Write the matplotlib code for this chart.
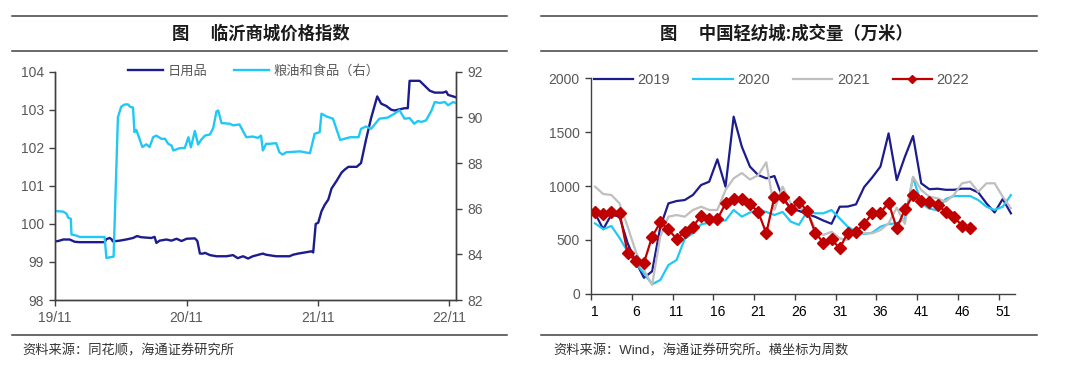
import pandas as pd
import matplotlib.pyplot as plt
from matplotlib.lines import Line2D

plt.rcParams['font.family'] = ['Liberation Sans', 'Noto Sans CJK SC']
plt.rcParams['axes.unicode_minus'] = False

# ---------- left chart: Linyi mall price index ----------
daily_dates = ['2019-11-01', '2019-11-10', '2019-11-24', '2019-12-12', '2019-12-26', '2020-01-09',
               '2020-03-18', '2020-03-23', '2020-04-01', '2020-04-06', '2020-04-10', '2020-04-29',
               '2020-05-17', '2020-06-05', '2020-06-16', '2020-06-28', '2020-07-12', '2020-07-26',
               '2020-08-04', '2020-08-09', '2020-08-18', '2020-09-06', '2020-09-20', '2020-10-04',
               '2020-10-18', '2020-11-01', '2020-11-24', '2020-12-01', '2020-12-08', '2020-12-17',
               '2020-12-22', '2021-01-05', '2021-01-23', '2021-02-20', '2021-03-10', '2021-03-23',
               '2021-04-07', '2021-04-21', '2021-05-04', '2021-06-01', '2021-06-10', '2021-07-08',
               '2021-08-14', '2021-08-24', '2021-09-07', '2021-09-26', '2021-10-14', '2021-10-19',
               '2021-10-26', '2021-11-02', '2021-11-11', '2021-11-20', '2021-11-30', '2021-12-09',
               '2021-12-23', '2022-01-06', '2022-01-15', '2022-01-25', '2022-02-17', '2022-03-01',
               '2022-03-15', '2022-03-29', '2022-04-15', '2022-04-26', '2022-05-10', '2022-05-24',
               '2022-06-02', '2022-06-30', '2022-07-09', '2022-07-14', '2022-08-11', '2022-08-25',
               '2022-09-08', '2022-09-22', '2022-10-15', '2022-10-24', '2022-10-29', '2022-11-12',
               '2022-11-19']
daily_vals = [99.54, 99.55, 99.59, 99.59, 99.53, 99.52,
              99.52, 99.60, 99.63, 99.60, 99.54, 99.56,
              99.59, 99.63, 99.68, 99.65, 99.64, 99.63,
              99.66, 99.50, 99.56, 99.59, 99.56, 99.61,
              99.55, 99.61, 99.62, 99.55, 99.22, 99.22,
              99.24, 99.18, 99.15, 99.15, 99.18, 99.10,
              99.15, 99.09, 99.15, 99.22, 99.19, 99.15,
              99.15, 99.19, 99.22, 99.25, 99.28, 99.25,
              100.00, 100.03, 100.33, 100.50, 100.64, 100.93,
              101.13, 101.35, 101.43, 101.50, 101.50, 101.60,
              102.22, 102.78, 103.35, 103.16, 103.10, 103.00,
              102.98, 103.04, 103.04, 103.76, 103.76, 103.63,
              103.50, 103.45, 103.45, 103.48, 103.39, 103.35,
              103.33]

food_dates = ['2019-11-01', '2019-11-24', '2019-12-03', '2019-12-08', '2019-12-15', '2019-12-17',
              '2019-12-31', '2020-01-09', '2020-03-18', '2020-03-23', '2020-04-01', '2020-04-12',
              '2020-04-24', '2020-05-03', '2020-05-12', '2020-05-22', '2020-05-28', '2020-06-05',
              '2020-06-09', '2020-06-14', '2020-06-18', '2020-07-01', '2020-07-12', '2020-07-21',
              '2020-07-31', '2020-08-09', '2020-08-23', '2020-09-02', '2020-09-11', '2020-09-20',
              '2020-09-25', '2020-10-13', '2020-10-27', '2020-11-06', '2020-11-13', '2020-11-24',
              '2020-12-03', '2020-12-12', '2020-12-22', '2021-01-05', '2021-01-14', '2021-01-23',
              '2021-01-28', '2021-02-06', '2021-03-01', '2021-03-10', '2021-03-28', '2021-04-16',
              '2021-05-04', '2021-05-18', '2021-05-27', '2021-06-01', '2021-06-10', '2021-06-19',
              '2021-07-08', '2021-07-17', '2021-07-26', '2021-08-05', '2021-09-12', '2021-10-10',
              '2021-10-23', '2021-11-06', '2021-11-11', '2021-11-25', '2021-12-13', '2022-01-02',
              '2022-01-30', '2022-02-22', '2022-03-01', '2022-03-15', '2022-03-29', '2022-04-21',
              '2022-05-14', '2022-06-02', '2022-06-16', '2022-06-30', '2022-07-14', '2022-07-27',
              '2022-08-06', '2022-08-16', '2022-08-29', '2022-09-13', '2022-09-22', '2022-10-06',
              '2022-10-20', '2022-10-29', '2022-11-12', '2022-11-19']
food_vals = [85.90, 85.87, 85.78, 85.60, 85.56, 84.87,
             84.82, 84.76, 84.76, 83.84, 83.87, 83.90,
             90.00, 90.46, 90.56, 90.57, 90.46, 90.43,
             89.35, 89.45, 89.28, 88.70, 88.82, 88.70,
             89.13, 89.20, 89.06, 89.06, 88.84, 88.77,
             88.55, 88.65, 88.66, 89.13, 88.69, 89.40,
             88.81, 89.03, 89.20, 89.25, 89.53, 90.26,
             90.30, 89.75, 89.72, 89.65, 89.69, 89.13,
             89.16, 89.10, 89.20, 88.55, 88.84, 88.84,
             88.87, 88.47, 88.37, 88.47, 88.51, 88.43,
             89.28, 89.35, 90.16, 90.04, 89.94, 89.01,
             89.13, 89.13, 89.50, 89.60, 89.50, 89.94,
             89.99, 90.16, 90.31, 89.94, 89.97, 89.72,
             89.84, 89.80, 89.87, 90.30, 90.67, 90.63,
             90.67, 90.53, 90.67, 90.63]

left_ticks = ['2019-11-01', '2020-11-01', '2021-11-01', '2022-11-01']
left_ticklabels = ['19/11', '20/11', '21/11', '22/11']

# ---------- right chart: China Textile City turnover (10k metres) ----------
weeks = list(range(1, 53))
vol_2019 = [747, 600, 735, 716, 469, 299, 150, 210, 620, 839, 861, 870, 917, 1009, 1040, 1247,
            994, 1642, 1364, 1179, 1102, 1071, 1092, 890, 793, 770, 740, 715, 680, 650, 808, 810,
            830, 990, 1080, 1180, 1487, 1055, 1271, 1463, 1025, 970, 975, 965, 965, 975, 975, 940,
            840, 755, 880, 747]
vol_2020 = [654, 600, 630, 520, 392, 284, 191, 90, 130, 268, 315, 510, 562, 645, 660, 685, 680,
            778, 716, 755, 778, 760, 731, 760, 670, 640, 762, 747, 747, 778, 700, 623, 577, 555,
            568, 623, 648, 654, 700, 1080, 840, 790, 775, 880, 907, 907, 907, 870, 808, 778, 808,
            916]
vol_2021 = [994, 926, 917, 839, 623, 392, 222, 85, 531, 716, 731, 716, 778, 808, 778, 778, 963,
            1071, 1120, 1060, 1100, 1220, 780, 994, 839, 793, 778, 600, 546, 577, 515, 500, 592,
            562, 562, 592, 654, 800, 650, 1086, 963, 901, 886, 855, 917, 1025, 1040, 947, 1025,
            1025, 901, 793]
vol_2022 = [756, 738, 762, 753, 376, 310, 290, 531, 663, 599, 509, 577, 623, 722, 691, 691, 839,
            876, 880, 830, 762, 562, 901, 901, 784, 855, 771, 568, 475, 506, 423, 568, 577, 648,
            747, 753, 845, 608, 784, 916, 861, 855, 824, 762, 716, 633, 608]
week_labels = [1, 6, 11, 16, 21, 26, 31, 36, 41, 46, 51]

navy = '#1c1c8c'
cyan = '#22c8f5'
grey = '#bfbfbf'
red = '#c00000'
txt = '#595959'
rule = '#404040'

fig = plt.figure(figsize=(10.8, 3.72), dpi=100)

# header / footer rules and texts
for x0, x1 in [(0.011, 0.469), (0.501, 0.960)]:
    for y in (0.957, 0.863, 0.0995):
        fig.add_artist(Line2D([x0, x1], [y, y], color=rule, lw=1.1, transform=fig.transFigure))

fig.text(0.2414, 0.909, '图\u3000 临沂商城价格指数', ha='center', va='center',
         fontsize=12.5, fontweight='bold', family=['Noto Sans CJK SC'], color='#1a1a1a')
fig.text(0.7284, 0.909, '图\u3000 中国轻纺城:成交量（万米）', ha='center', va='center',
         fontsize=12.5, fontweight='bold', family=['Noto Sans CJK SC'], color='#1a1a1a')
fig.text(0.021, 0.057, '资料来源：同花顺，海通证券研究所', ha='left', va='center',
         fontsize=9.5, color='#333333')
fig.text(0.512, 0.057, '资料来源：Wind，海通证券研究所。横坐标为周数', ha='left', va='center',
         fontsize=9.5, color='#333333')

# left chart
ax1 = fig.add_axes([0.0509, 0.1935, 0.3713, 0.6138])
ax2 = ax1.twinx()
l1, = ax1.plot(pd.to_datetime(daily_dates), daily_vals, color=navy, lw=1.7, label='日用品')
l2, = ax2.plot(pd.to_datetime(food_dates), food_vals, color=cyan, lw=1.7, label='粮油和食品（右）')
ax1.set_ylim(98, 104)
ax2.set_ylim(82, 92)
ax1.set_yticks(range(98, 105))
ax2.set_yticks(range(82, 93, 2))
ax1.set_xlim(pd.Timestamp('2019-11-01'), pd.Timestamp('2022-11-20'))
ax1.set_xticks(pd.to_datetime(left_ticks))
ax1.set_xticklabels(left_ticklabels)
for a in (ax1, ax2):
    a.spines['top'].set_visible(False)
    for s in ('left', 'right', 'bottom'):
        a.spines[s].set_color(rule)
        a.spines[s].set_linewidth(1.0)
    a.tick_params(direction='out', length=4, width=1, color=rule, labelsize=10,
                  labelcolor=txt, pad=4)
ax2.legend([l1, l2], ['日用品', '粮油和食品（右）'], loc='center', bbox_to_anchor=(0.495, 1.0),
           ncol=2, frameon=False, fontsize=9.5, handlelength=2.7, handletextpad=0.3,
           columnspacing=2.0, labelcolor=txt)

# right chart
ax3 = fig.add_axes([0.5472, 0.2097, 0.3926, 0.5806])
ax3.plot(weeks, vol_2019, color=navy, lw=1.6, label='2019')
ax3.plot(weeks, vol_2020, color=cyan, lw=1.6, label='2020')
ax3.plot(weeks, vol_2021, color=grey, lw=1.6, label='2021')
ax3.plot(weeks[:len(vol_2022)], vol_2022, color=red, lw=1.6, marker='D', markersize=6.5,
         label='2022')
ax3.set_xlim(0.5, 52.5)
ax3.set_ylim(0, 2000)
ax3.set_yticks(range(0, 2001, 500))
ax3.set_xticks([w - 0.5 for w in week_labels])
ax3.set_xticklabels([])
ax3.set_xticks(week_labels, minor=True)
ax3.set_xticklabels([str(w) for w in week_labels], minor=True)
ax3.spines['top'].set_visible(False)
ax3.spines['right'].set_visible(False)
for s in ('left', 'bottom'):
    ax3.spines[s].set_color(rule)
    ax3.spines[s].set_linewidth(1.0)
ax3.tick_params(direction='out', length=4, width=1, color=rule, labelsize=10,
                labelcolor=txt, pad=4)
ax3.tick_params(axis='x', which='minor', length=0, pad=8)
ax3.legend(loc='center', bbox_to_anchor=(0.449, 0.99), ncol=4, frameon=False, fontsize=10.5,
           handlelength=2.7, handletextpad=0.3, columnspacing=1.6, labelcolor=txt,
           markerscale=0.6)

fig.savefig('out.png', dpi=100)
